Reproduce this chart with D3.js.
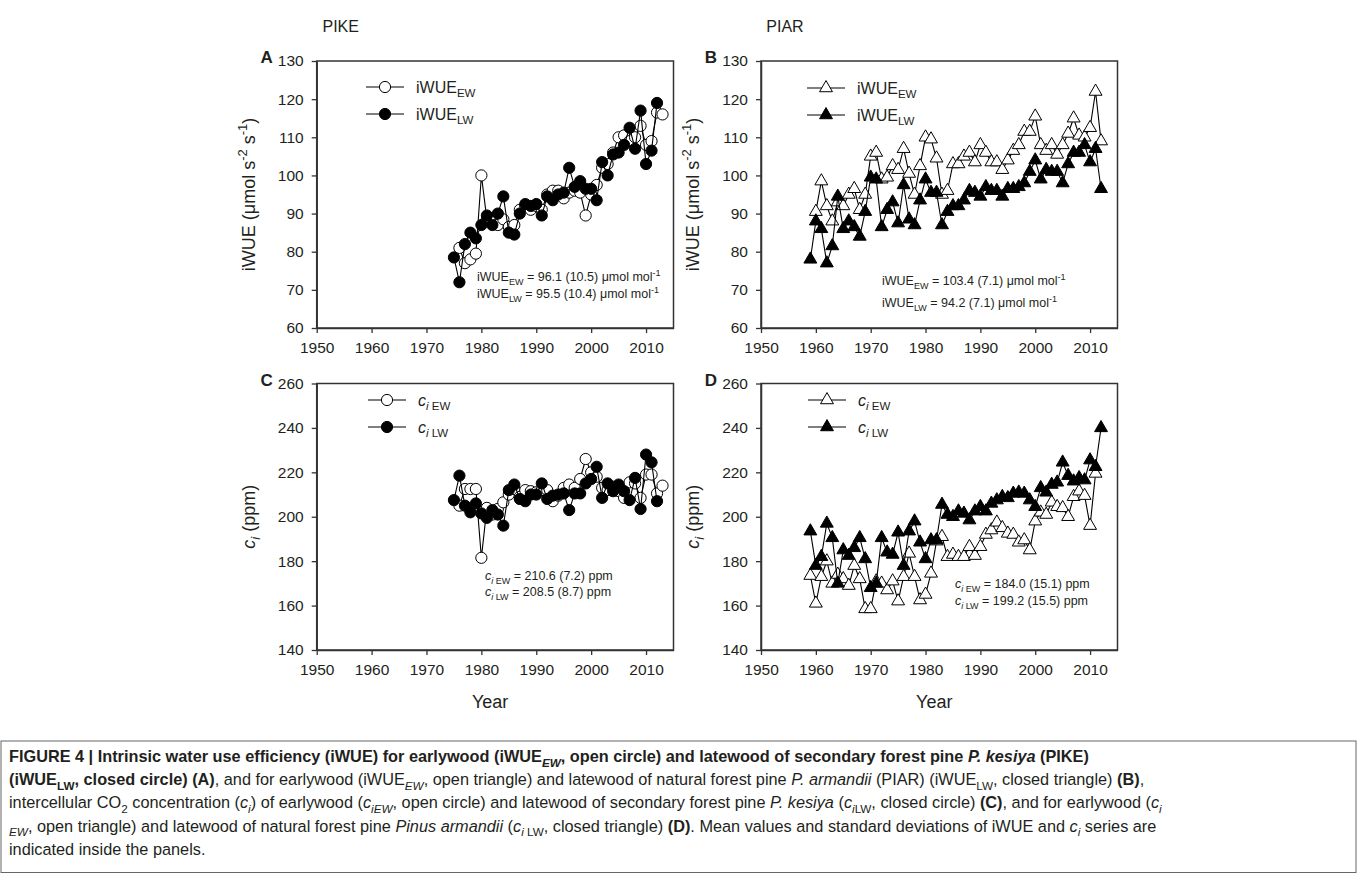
<!DOCTYPE html>
<html><head><meta charset="utf-8">
<script src="https://cdn.jsdelivr.net/npm/d3@7"></script>
<style>
body{margin:0;background:#fff;}
svg{font-family:"Liberation Sans",Arial,Helvetica,sans-serif;}
</style></head><body>
<svg id="chart" width="1358" height="874"></svg>
<script>
// ---------------- DATA ----------------
const xTicks = [1950,1960,1970,1980,1990,2000,2010];
const yTicksIwue = [60,70,80,90,100,110,120,130];
const yTicksCi = [140,160,180,200,220,240,260];

const yearsPikeLW = [1975,1976,1977,1978,1979,1980,1981,1982,1983,1984,1985,1986,1987,1988,1989,1990,1991,1992,1993,1994,1995,1996,1997,1998,1999,2000,2001,2002,2003,2004,2005,2006,2007,2008,2009,2010,2011,2012];
const yearsPikeEW = [1976,1977,1978,1979,1980,1981,1982,1983,1984,1985,1986,1987,1988,1989,1990,1991,1992,1993,1994,1995,1996,1997,1998,1999,2000,2001,2002,2003,2004,2005,2006,2007,2008,2009,2010,2011,2012,2013];
const yearsPiarLW = [1959,1960,1961,1962,1963,1964,1965,1966,1967,1968,1969,1970,1971,1972,1973,1974,1975,1976,1977,1978,1979,1980,1981,1982,1983,1984,1985,1986,1987,1988,1989,1990,1991,1992,1993,1994,1995,1996,1997,1998,1999,2000,2001,2002,2003,2004,2005,2006,2007,2008,2009,2010,2011,2012];
const yearsPiarIwueEW = [1960,1961,1962,1963,1964,1965,1966,1967,1968,1969,1970,1971,1972,1973,1974,1975,1976,1977,1978,1979,1980,1981,1982,1983,1984,1985,1986,1987,1988,1989,1990,1991,1992,1993,1994,1995,1996,1997,1998,1999,2000,2001,2002,2003,2004,2005,2006,2007,2008,2009,2010,2011,2012];
const yearsPiarCiEW = [1959,1960,1961,1962,1963,1964,1965,1966,1967,1968,1969,1970,1971,1972,1973,1974,1975,1976,1977,1978,1979,1980,1981,1982,1983,1984,1985,1986,1987,1988,1989,1990,1991,1992,1993,1994,1995,1996,1997,1998,1999,2000,2001,2002,2003,2004,2005,2006,2007,2008,2009,2010,2011];

// Panel A: PIKE iWUE
const pikeIwueEW = [81,77,78,79.5,100,88.5,88,87,88.5,86.5,87,91,92,91,92,91,95,96,96,94,95.5,96,95.5,89.5,95,97.5,102,103,106,110,110.5,109,110,113,108,109,116.5,116];
const pikeIwueLW = [78.5,72,82,85,83.5,87,89.5,87,90,94.5,85,84.5,90,92.5,92,92.5,89.5,94.5,93.5,95,95.5,102,97,98.5,96.5,96.5,93.5,103.5,100,105.5,106,108,112.5,107,117,103,106.5,119];
// Panel B: PIAR iWUE
const piarIwueEW = [90.5,98.5,92,88,93,92,95,96.5,91,95,105,106,99,99.5,102.5,101.5,107,100.5,95,102.5,110,109.5,104.5,95,96,103,103,105,106,103.5,108,106,103.5,103.5,101.5,104,106.5,108,111.5,111.5,115.5,108,106.5,108,105.5,108,111,115,110.5,110,112.5,122,109];
const piarIwueLW = [78,88,86,77,81.5,94.5,86,88,86.5,84,90.5,99.5,99,86.5,91,93,87.5,97.5,88.5,87,93.5,99,95.5,95.5,87,90.5,92,92,93.5,96,95.5,94.5,97,96,96,94.5,96.5,96.5,97,98,101,104,99,101.5,101,101,98,103,106,106,108,103.5,107,96.5];
// Panel C: PIKE ci
const pikeCiEW = [205,212.5,212.5,212.5,181.5,204,201,203.5,206.5,210,212.5,209,212,211.5,211,212,212,207,209.5,213,214.5,213,217,226,220,218,213,212,213.5,211.5,208.5,215.5,215,208.5,219,219,210.5,214];
const pikeCiLW = [207.5,218.5,205,202,206,201.5,199.5,203,201,196,212,214.5,208,207,210,210,215,208,209.5,210,210.5,203,210.5,210.5,215,217,222.5,208.5,215,211.5,214.5,211.5,207.5,217.5,203.5,228,224.5,207];
// Panel D: PIAR ci
const piarCiEW = [173.5,161,173,180,170,174,172,169,178,172,158.5,158.5,171,170,167,171,162,173,183.5,173,162.5,165,174.5,189,191,182,183,182,182,186.5,182.5,186.5,192,194,197.5,195,192.5,192,188.5,189.5,185,198,202,201,206.5,204.5,204,200,209,211.5,209.5,196,219.5];
const piarCiLW = [193.5,178,182,197,190.5,170,185,182.5,186,190.5,181,168,170,190.5,184,183,193,178,193.5,198,188.5,181,189.5,189.5,205.5,201,200,202.5,201.5,198.5,202.5,204.5,202.5,206,207.5,209,208.5,210.5,211,210.5,207.5,204.5,213,211,214.5,215.5,224.5,218.5,216,217.5,216.5,225.5,222.5,240];

const statsA = [["iWUE","EW"," = 96.1 (10.5) μmol mol"],["iWUE","LW"," = 95.5 (10.4) μmol mol"]];
const statsB = [["iWUE","EW"," = 103.4 (7.1) μmol mol"],["iWUE","LW"," = 94.2 (7.1) μmol mol"]];
const statsC = [["EW"," = 210.6 (7.2) ppm"],["LW"," = 208.5 (8.7) ppm"]];
const statsD = [["EW"," = 184.0 (15.1) ppm"],["LW"," = 199.2 (15.5) ppm"]];

// ---------------- HELPERS ----------------
const svg = d3.select("#chart");
const TXT = "#231f20";

function rich(parent, x, y, segs, size, anchor) {
  const t = parent.append("text").attr("x", x).attr("y", y)
    .style("font-size", size + "px").attr("fill", TXT)
    .attr("text-anchor", anchor || "start");
  let cur = 0;
  segs.forEach(s => {
    const sp = t.append("tspan").text(s.t);
    const shift = s.s === "sub" ? size * 0.28 : s.s === "sup" ? -size * 0.42 : 0;
    if (shift - cur !== 0) sp.attr("dy", shift - cur);
    cur = shift;
    if (s.s) sp.style("font-size", (size * 0.72) + "px");
    if (s.b) sp.style("font-weight", "bold");
    if (s.i) sp.style("font-style", "italic");
  });
  return t;
}

function marker(g, type, filled, cx, cy) {
  if (type === "circle") {
    g.append("circle").attr("cx", cx).attr("cy", cy).attr("r", 5.6)
      .attr("fill", filled ? "#000" : "#fff").attr("stroke", "#000").attr("stroke-width", 1);
  } else {
    g.append("path").attr("d", d3.symbol(d3.symbolTriangle, 72)())
      .attr("transform", `translate(${cx},${cy})`)
      .attr("fill", filled ? "#000" : "#fff").attr("stroke", "#000").attr("stroke-width", 1);
  }
}

function drawPanel(p) {
  const x = d3.scaleLinear().domain([1950, 2015]).range([p.left, p.right]);
  const y = d3.scaleLinear().domain(p.yDomain).range([p.bottom, p.top]);
  const g = svg.append("g");

  const ax = g.append("g").attr("transform", `translate(0,${p.bottom})`)
    .call(d3.axisBottom(x).tickValues(xTicks).tickSize(5).tickSizeOuter(0).tickPadding(9).tickFormat(d3.format("d")));
  const ay = g.append("g").attr("transform", `translate(${p.left},0)`)
    .call(d3.axisLeft(y).tickValues(p.yTicks).tickSize(5).tickSizeOuter(0).tickPadding(8));
  [ax, ay].forEach(a => {
    a.selectAll("text").style("font-size", "15.5px").attr("fill", TXT).style("font-family", "'Liberation Sans',Arial,sans-serif");
    a.selectAll("line").attr("stroke", "#333").attr("stroke-width", 1.3);
    a.select(".domain").attr("stroke", "#333").attr("stroke-width", 1.5);
  });
  g.append("rect").attr("x", p.left).attr("y", p.top)
    .attr("width", p.right - p.left).attr("height", p.bottom - p.top)
    .attr("fill", "none").attr("stroke", "#333").attr("stroke-width", 1.5);

  p.series.forEach(s => {
    const pts = s.years.map((yr, i) => [x(yr), y(s.values[i])]);
    g.append("path").attr("d", d3.line()(pts)).attr("fill", "none")
      .attr("stroke", "#000").attr("stroke-width", 1.1);
    pts.forEach(pt => marker(g, p.marker, s.filled, pt[0], pt[1]));
  });

  p.legend.forEach((lg, i) => {
    const ly = p.legY + i * 27;
    g.append("line").attr("x1", p.legX).attr("x2", p.legX + 38).attr("y1", ly).attr("y2", ly)
      .attr("stroke", "#000").attr("stroke-width", 1.1);
    marker(g, p.marker, i === 1, p.legX + 19, ly);
    rich(g, p.legX + 50, ly + 6, lg, 16);
  });

  p.stats.forEach((st, i) => {
    rich(g, p.statX, p.statY + i * p.statGap, st, 12.5);
  });

  g.append("text").attr("x", p.left - 50).attr("y", p.top + 2).attr("text-anchor", "middle")
    .style("font-size", "17px").style("font-weight", "bold").attr("fill", TXT).text(p.letter);

  const yl = rich(g, 0, 0, p.yLabel, 18, "middle");
  yl.attr("transform", `translate(${p.left - 62},${(p.top + p.bottom) / 2}) rotate(-90)`);

  if (p.title) {
    g.append("text").attr("x", p.left + 24).attr("y", 32).attr("text-anchor", "middle")
      .style("font-size", "16px").attr("fill", TXT).text(p.title);
  }
  if (p.xLabel) {
    g.append("text").attr("x", (p.left + p.right) / 2 - 5).attr("y", p.bottom + 58).attr("text-anchor", "middle")
      .style("font-size", "18px").attr("fill", TXT).text(p.xLabel);
  }
}

const iwueLabel = [{t:"iWUE (μmol s"},{t:"-2",s:"sup"},{t:" s"},{t:"-1",s:"sup"},{t:")"}];
const ciLabel = [{t:"c",i:true},{t:"i",i:true,s:"sub"},{t:" (ppm)"}];
const legIwue = [[{t:"iWUE"},{t:"EW",s:"sub"}],[{t:"iWUE"},{t:"LW",s:"sub"}]];
const legCi = [[{t:"c",i:true},{t:"i",i:true,s:"sub"},{t:" EW",s:"sub"}],[{t:"c",i:true},{t:"i",i:true,s:"sub"},{t:" LW",s:"sub"}]];
const statIw = st => [{t:st[0]},{t:st[1],s:"sub"},{t:st[2]},{t:"-1",s:"sup"}];
const statCi = st => [{t:"c",i:true},{t:"i",i:true,s:"sub"},{t:" " + st[0],s:"sub"},{t:st[1]}];

const L1 = 316.7, R1 = 673.5, L2 = 761, R2 = 1117.5;
const T1 = 61, B1 = 328, T2 = 383.5, B2 = 650;

drawPanel({letter:"A", title:"PIKE", left:L1, right:R1, top:T1, bottom:B1, yDomain:[60,130], yTicks:yTicksIwue,
  marker:"circle", series:[{years:yearsPikeEW, values:pikeIwueEW, filled:false},{years:yearsPikeLW, values:pikeIwueLW, filled:true}],
  legend:legIwue, legX:366, legY:87, stats:statsA.map(statIw), statX:477, statY:281, statGap:17, yLabel:iwueLabel});
drawPanel({letter:"B", title:"PIAR", left:L2, right:R2, top:T1, bottom:B1, yDomain:[60,130], yTicks:yTicksIwue,
  marker:"triangle", series:[{years:yearsPiarIwueEW, values:piarIwueEW, filled:false},{years:yearsPiarLW, values:piarIwueLW, filled:true}],
  legend:legIwue, legX:807, legY:88, stats:statsB.map(statIw), statX:882, statY:285, statGap:22, yLabel:iwueLabel});
drawPanel({letter:"C", left:L1, right:R1, top:T2, bottom:B2, yDomain:[140,260], yTicks:yTicksCi,
  marker:"circle", series:[{years:yearsPikeEW, values:pikeCiEW, filled:false},{years:yearsPikeLW, values:pikeCiLW, filled:true}],
  legend:legCi, legX:368, legY:400, stats:statsC.map(statCi), statX:485, statY:580, statGap:16, yLabel:ciLabel, xLabel:"Year"});
drawPanel({letter:"D", left:L2, right:R2, top:T2, bottom:B2, yDomain:[140,260], yTicks:yTicksCi,
  marker:"triangle", series:[{years:yearsPiarCiEW, values:piarCiEW, filled:false},{years:yearsPiarLW, values:piarCiLW, filled:true}],
  legend:legCi, legX:808, legY:400, stats:statsD.map(statCi), statX:955, statY:588, statGap:17, yLabel:ciLabel, xLabel:"Year"});

// ---------------- CAPTION ----------------
svg.append("rect").attr("x", 1).attr("y", 741).attr("width", 1355).attr("height", 131.5)
  .attr("fill", "none").attr("stroke", "#666").attr("stroke-width", 1);
const capLines = [
  [{t:"FIGURE 4 | Intrinsic water use efficiency (iWUE) for earlywood (iWUE",b:true},{t:"EW",b:true,i:true,s:"sub"},{t:", open circle) and latewood of secondary forest pine ",b:true},{t:"P. kesiya",b:true,i:true},{t:" (PIKE)",b:true}],
  [{t:"(iWUE",b:true},{t:"LW",b:true,s:"sub"},{t:", closed circle) (A)",b:true},{t:", and for earlywood (iWUE"},{t:"EW",i:true,s:"sub"},{t:", open triangle) and latewood of natural forest pine "},{t:"P. armandii",i:true},{t:" (PIAR) (iWUE"},{t:"LW",s:"sub"},{t:", closed triangle) "},{t:"(B)",b:true},{t:","}],
  [{t:"intercellular CO"},{t:"2",s:"sub"},{t:" concentration ("},{t:"c",i:true},{t:"i",i:true,s:"sub"},{t:") of earlywood ("},{t:"c",i:true},{t:"iEW",i:true,s:"sub"},{t:", open circle) and latewood of secondary forest pine "},{t:"P. kesiya",i:true},{t:" ("},{t:"c",i:true},{t:"i",i:true,s:"sub"},{t:"LW",s:"sub"},{t:", closed circle) "},{t:"(C)",b:true},{t:", and for earlywood ("},{t:"c",i:true},{t:"i",i:true,s:"sub"}],
  [{t:"EW",i:true,s:"sub"},{t:", open triangle) and latewood of natural forest pine "},{t:"Pinus armandii",i:true},{t:" ("},{t:"c",i:true},{t:"i",i:true,s:"sub"},{t:" LW",s:"sub"},{t:", closed triangle) "},{t:"(D)",b:true},{t:". Mean values and standard deviations of iWUE and "},{t:"c",i:true},{t:"i",i:true,s:"sub"},{t:" series are"}],
  [{t:"indicated inside the panels."}]
];
capLines.forEach((ln, i) => rich(svg, 9, 762 + i * 23.2, ln, 16.3));
</script>
</body></html>
